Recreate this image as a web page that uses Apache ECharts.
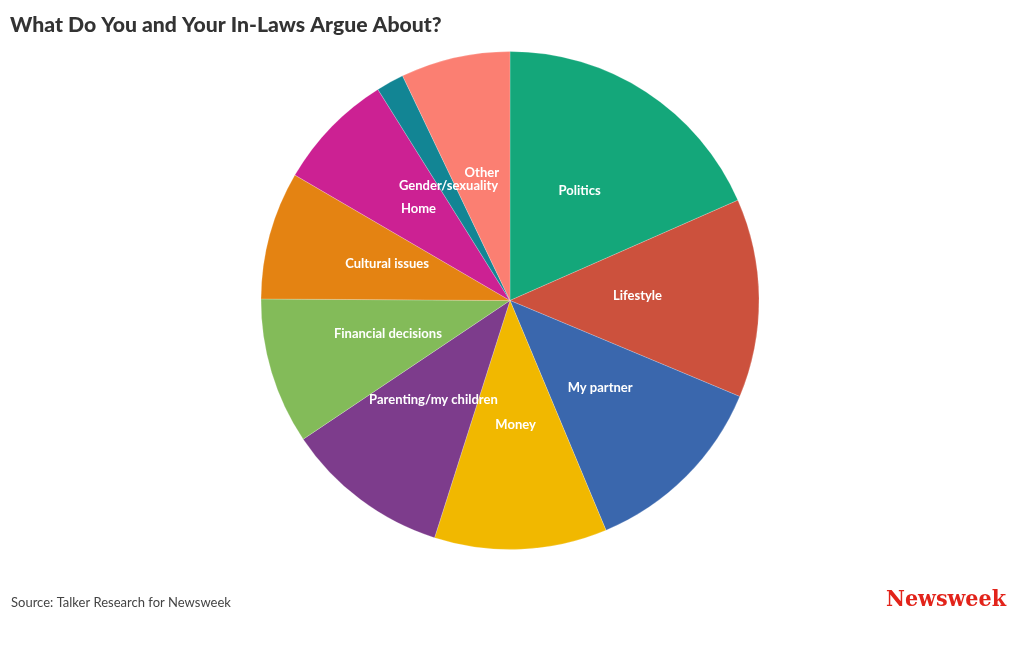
<!DOCTYPE html>
<html><head><meta charset="utf-8">
<script src="https://cdn.jsdelivr.net/npm/echarts@6/dist/echarts.min.js"></script>
<style>html,body{margin:0;padding:0;background:#fff}#c{width:1020px;height:650px}</style>
</head><body><div id="c"></div>
<script>
const categories = ["Politics","Lifestyle","My partner","Money","Parenting/my children","Financial decisions","Cultural issues","Home","Gender/sexuality","Other"];
const values = [18.4,12.9,12.4,11.2,10.7,9.5,8.3,7.7,1.8,7.1];
const colors = ["#14a77a","#cc513d","#3a67ad","#f1b800","#7d3c8c","#83bb59","#e48312","#cc2193","#128594","#fb7f72"];
const titleText = "What Do You and Your In-Laws Argue About?";
const sourceText = "Source: Talker Research for Newsweek";
const FONT = "Lato";
const chart = echarts.init(document.getElementById('c'), null, {renderer:'canvas'});
chart.setOption({
  animation:false,
  title:{text:titleText,left:5,top:10,textStyle:{fontFamily:FONT,fontWeight:900,fontSize:21.2,color:'#333'}},
  graphic:[
    {type:'text',left:11,top:596,style:{text:sourceText,fontFamily:FONT,fontSize:13,fill:'#444'}},
    {type:'text',right:14,top:589,style:{text:'Newsweek',fontFamily:'DejaVu Serif Condensed',fontWeight:'bold',fontSize:23,fill:'#e2231a'}}
  ],
  series:[{
    type:'pie',center:[510,300.5],radius:[0,249],startAngle:90,clockwise:true,
    avoidLabelOverlap:false,
    labelLayout:{hideOverlap:false},
    color:colors,
    itemStyle:{borderColor:'rgba(255,255,255,0.4)',borderWidth:0.5},
    label:{show:true,position:'inside',formatter:'{b}',color:'#fff',fontFamily:FONT,fontWeight:'bold',fontSize:13,offset:[0,-3]},
    labelLine:{show:false},
    emphasis:{disabled:true},
    data:categories.map((c,i)=>({name:c,value:values[i]}))
  }]
});
</script></body></html>
